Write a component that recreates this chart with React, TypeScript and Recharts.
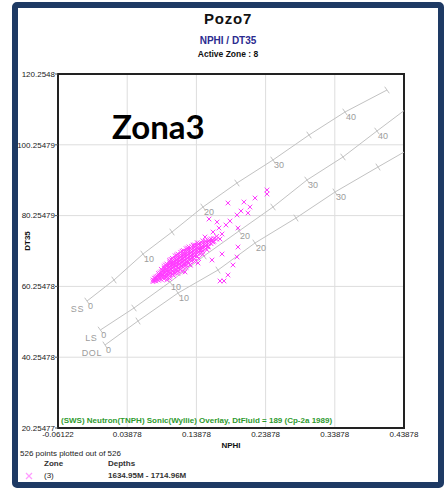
import React from 'react';
import { ScatterChart, Scatter, XAxis, YAxis, CartesianGrid, ReferenceArea } from 'recharts';

// axis ticks as printed on the plot
const xTicks = [-0.06122, 0.03878, 0.13878, 0.23878, 0.33878, 0.43878];
const yTicks = [20.25477, 40.25478, 60.25478, 80.25479, 100.25479, 120.2548];

// Wyllie overlay lines (porosity ticks every 5 p.u.)
const ssPorosity = [0, 5, 10, 15, 20, 25, 30, 35, 40, 45];
const ssNphi = [-0.0193, 0.0197, 0.0616, 0.1035, 0.1483, 0.1974, 0.2494, 0.3015, 0.3535, 0.4142];
const ssDt = [56.12, 62.06, 69.4, 75.62, 82.68, 89.46, 95.96, 103.02, 109.52, 115.73];

const lsPorosity = [0, 5, 10, 15, 20, 25, 30, 35, 40, null];
const lsNphi = [0.0, 0.0486, 0.1006, 0.1497, 0.2003, 0.2495, 0.2986, 0.3506, 0.3997, 0.43878];
const lsDt = [47.94, 54.15, 61.49, 68.84, 75.9, 82.68, 90.31, 96.81, 104.15, 109.9];

const dolPorosity = [0, 5, 10, 15, 20, 25, 30, 35, null];
const dolNphi = [0.0067, 0.0544, 0.1122, 0.17, 0.2234, 0.2827, 0.3391, 0.4012, 0.43878];
const dolDt = [43.7, 50.48, 58.38, 64.88, 72.51, 79.57, 86.92, 93.98, 98.2];

// Zone (3) samples: [NPHI, DT35]
const zone3Points: [number, number][] = [
  [0.076, 61.6], [0.076, 62.1], [0.078, 61.9], [0.078, 62.6],
  [0.08, 61.8], [0.08, 62.5], [0.08, 62.9], [0.082, 62.2], [0.082, 63.1],
  [0.084, 62.0], [0.084, 62.7], [0.084, 63.3], [0.084, 63.9],
  [0.086, 62.5], [0.086, 63.4], [0.086, 64.1],
  [0.088, 62.2], [0.088, 63.0], [0.088, 63.7], [0.088, 64.4], [0.088, 65.1],
  [0.09, 62.9], [0.09, 63.6], [0.09, 64.6],
  [0.092, 62.4], [0.092, 63.3], [0.092, 64.0], [0.092, 64.8], [0.092, 65.4], [0.092, 65.9],
  [0.094, 63.1], [0.094, 64.2], [0.094, 65.1], [0.094, 66.3],
  [0.096, 62.1], [0.096, 62.8], [0.096, 63.7], [0.096, 64.5], [0.096, 65.2], [0.096, 66.0], [0.096, 66.6],
  [0.098, 63.5], [0.098, 64.3], [0.098, 65.6], [0.098, 66.3],
  [0.1, 62.5], [0.1, 63.1], [0.1, 64.1], [0.1, 64.9], [0.1, 65.7], [0.1, 66.5], [0.1, 67.1], [0.1, 67.6],
  [0.102, 64.0], [0.102, 65.2], [0.102, 66.1], [0.102, 66.8], [0.102, 67.9],
  [0.104, 63.6], [0.104, 64.5], [0.104, 65.4], [0.104, 66.2], [0.104, 67.0], [0.104, 67.6], [0.104, 68.2],
  [0.106, 63.3], [0.106, 64.3], [0.106, 65.7], [0.106, 66.4], [0.106, 67.3],
  [0.108, 64.1], [0.108, 65.0], [0.108, 65.9], [0.108, 66.7], [0.108, 67.5], [0.108, 68.2], [0.108, 68.9],
  [0.11, 64.9], [0.11, 66.1], [0.11, 67.0], [0.11, 67.8], [0.11, 69.1],
  [0.112, 63.9], [0.112, 64.6], [0.112, 65.5], [0.112, 66.4], [0.112, 67.2], [0.112, 68.0], [0.112, 68.7], [0.112, 69.4],
  [0.114, 65.4], [0.114, 66.6], [0.114, 67.5], [0.114, 68.3],
  [0.116, 65.1], [0.116, 66.0], [0.116, 66.9], [0.116, 67.7], [0.116, 68.5], [0.116, 69.2], [0.116, 69.9],
  [0.118, 64.5], [0.118, 66.0], [0.118, 67.1], [0.118, 68.0], [0.118, 68.9], [0.118, 70.2],
  [0.12, 65.7], [0.12, 66.6], [0.12, 67.4], [0.12, 68.2], [0.12, 69.0], [0.12, 69.7], [0.12, 70.4],
  [0.122, 66.5], [0.122, 67.6], [0.122, 68.5], [0.122, 69.3],
  [0.124, 65.6], [0.124, 66.3], [0.124, 67.2], [0.124, 68.0], [0.124, 68.8], [0.124, 69.5], [0.124, 70.2], [0.124, 70.9],
  [0.126, 67.1], [0.126, 68.3], [0.126, 69.1], [0.126, 69.9], [0.126, 71.1],
  [0.128, 66.9], [0.128, 67.8], [0.128, 68.6], [0.128, 69.4], [0.128, 70.1], [0.128, 70.8], [0.128, 71.4],
  [0.13, 66.3], [0.13, 67.8], [0.13, 68.9], [0.13, 69.7], [0.13, 70.4],
  [0.132, 67.5], [0.132, 68.4], [0.132, 69.2], [0.132, 70.0], [0.132, 70.7], [0.132, 71.5],
  [0.134, 68.4], [0.134, 69.4], [0.134, 70.3], [0.134, 71.9],
  [0.136, 67.3], [0.136, 68.1], [0.136, 69.0], [0.136, 69.8], [0.136, 70.6], [0.136, 71.3], [0.136, 72.0],
  [0.138, 69.1], [0.138, 70.1], [0.138, 70.9],
  [0.14, 68.8], [0.14, 69.6], [0.14, 70.4], [0.14, 71.2], [0.14, 71.9], [0.14, 72.6],
  [0.142, 68.1], [0.142, 69.9], [0.142, 70.7], [0.142, 71.5], [0.142, 72.3],
  [0.144, 69.5], [0.144, 70.3], [0.144, 71.0], [0.144, 71.8], [0.144, 72.5],
  [0.146, 70.6], [0.146, 71.4],
  [0.148, 69.3], [0.148, 70.2], [0.148, 71.0], [0.148, 71.7], [0.148, 72.4], [0.148, 73.1],
  [0.15, 71.3], [0.15, 72.1],
  [0.152, 70.9], [0.152, 71.7], [0.152, 72.4], [0.152, 73.0],
  [0.154, 70.6], [0.154, 72.0], [0.154, 72.7],
  [0.156, 71.6], [0.156, 72.4], [0.156, 73.1],
  [0.158, 72.7], [0.158, 73.4],
  [0.16, 72.3], [0.16, 73.0], [0.16, 73.7],
  [0.162, 73.3], [0.164, 73.0], [0.164, 73.8], [0.168, 73.6], [0.168, 74.4],
  // scattered samples
  [0.2408, 87.49], [0.2408, 86.35], [0.2235, 85.22], [0.2075, 84.09], [0.1844, 83.81],
  [0.2162, 82.68], [0.2032, 81.55], [0.2133, 80.99], [0.1975, 80.42], [0.157, 79.29],
  [0.1873, 78.73], [0.1815, 77.6], [0.1989, 76.75], [0.1714, 76.75], [0.1628, 75.62],
  [0.1758, 75.06], [0.1729, 73.64], [0.1989, 71.38], [0.1758, 69.4], [0.1975, 68.56],
  [0.1916, 66.3], [0.1844, 63.47], [0.1729, 61.78], [0.1787, 61.78], [0.1411, 66.86],
  [0.1555, 71.38], [0.1628, 72.79], [0.1512, 74.21], [0.144, 70.53], [0.1295, 66.3],
  [0.1223, 64.33], [0.1613, 67.71], [0.1686, 78.44],
];

const ssLine = ssNphi.map((x, i) => ({ x, y: ssDt[i], p: ssPorosity[i] }));
const lsLine = lsNphi.map((x, i) => ({ x, y: lsDt[i], p: lsPorosity[i] }));
const dolLine = dolNphi.map((x, i) => ({ x, y: dolDt[i], p: dolPorosity[i] }));
const zone3 = zone3Points.map(([x, y]) => ({ x, y }));

const FONT = '"Liberation Sans", Arial, sans-serif';
const OVERLAY = '#c2c2c2';
const OVERLAY_TEXT = '#9c9c9c';
const MAGENTA = '#ff3cff';

function overlayShape(angleDeg: number, name: string) {
  const a = (angleDeg * Math.PI) / 180;
  const nx = Math.sin(a);
  const ny = Math.cos(a);
  return (props: any) => {
    const { cx, cy, payload } = props;
    if (payload.p == null) return <g />;
    return (
      <g>
        <line x1={cx - 4 * nx} y1={cy - 4 * ny} x2={cx + 4 * nx} y2={cy + 4 * ny} stroke={OVERLAY} strokeWidth={1} />
        {payload.p % 10 === 0 && (
          <text x={cx + 1} y={cy + 8} fontSize={9} fill={OVERLAY_TEXT} fontFamily={FONT}>
            {payload.p}
          </text>
        )}
        {payload.p === 0 && (
          <text x={cx - 3} y={cy + 11} fontSize={9} fill={OVERLAY_TEXT} textAnchor="end" fontFamily={FONT} letterSpacing={0.6}>
            {name}
          </text>
        )}
      </g>
    );
  };
}

const crossShape = (props: any) => {
  const { cx, cy } = props;
  const s = 2.3;
  return (
    <g stroke={MAGENTA} strokeWidth={1}>
      <line x1={cx - s} y1={cy - s} x2={cx + s} y2={cy + s} />
      <line x1={cx - s} y1={cy + s} x2={cx + s} y2={cy - s} />
    </g>
  );
};

const abs = (style: React.CSSProperties): React.CSSProperties => ({ position: 'absolute', whiteSpace: 'nowrap', ...style });

export default function App() {
  return (
    <div style={{ position: 'absolute', left: 0, top: 0, width: 448, height: 489, background: '#fff', fontFamily: FONT, overflow: 'hidden' }}>
      <div style={abs({ left: 12, top: 2, width: 432, height: 486, border: '6px solid #1e3a64', borderRadius: 5, boxSizing: 'border-box' })} />

      <div style={abs({ left: 0, top: 0 })}>
        <ScatterChart width={448} height={489} margin={{ top: 74, right: 44, bottom: 41, left: 8 }}>
          <CartesianGrid stroke="#dddddd" strokeWidth={1} />
          <XAxis
            type="number"
            dataKey="x"
            domain={[xTicks[0], xTicks[xTicks.length - 1]]}
            ticks={xTicks}
            interval={0}
            allowDataOverflow
            height={20}
            axisLine={false}
            tickLine={false}
            tickSize={3}
            tickMargin={0}
            tick={{ fontSize: 8, fill: '#222', fontFamily: FONT }}
          />
          <YAxis
            type="number"
            dataKey="y"
            domain={[yTicks[0], yTicks[yTicks.length - 1]]}
            ticks={yTicks}
            interval={0}
            allowDataOverflow
            width={50}
            axisLine={false}
            tickLine={{ stroke: '#555' }}
            tickSize={3}
            tickMargin={0}
            tick={{ fontSize: 8, fill: '#222', fontFamily: FONT }}
          />
          <Scatter data={ssLine} line={{ stroke: OVERLAY, strokeWidth: 1 }} shape={overlayShape(35, 'SS')} isAnimationActive={false} />
          <Scatter data={lsLine} line={{ stroke: OVERLAY, strokeWidth: 1 }} shape={overlayShape(36, 'LS')} isAnimationActive={false} />
          <Scatter data={dolLine} line={{ stroke: OVERLAY, strokeWidth: 1 }} shape={overlayShape(33, 'DOL')} isAnimationActive={false} />
          <Scatter data={zone3} shape={crossShape} isAnimationActive={false} />
          <ReferenceArea
            x1={xTicks[0]}
            x2={xTicks[xTicks.length - 1]}
            y1={yTicks[0]}
            y2={yTicks[yTicks.length - 1]}
            fill="none"
            stroke="#222"
            strokeWidth={2}
          />
        </ScatterChart>
      </div>

      <div style={abs({ left: 128, width: 200, top: 10, textAlign: 'center', fontSize: 15, fontWeight: 'bold', lineHeight: '18px', letterSpacing: 0.8, color: '#111' })}>Pozo7</div>
      <div style={abs({ left: 128, width: 200, top: 35, textAlign: 'center', fontSize: 10, fontWeight: 'bold', lineHeight: '12px', color: '#2b2b8f' })}>NPHI / DT35</div>
      <div style={abs({ left: 128, width: 200, top: 48, textAlign: 'center', fontSize: 8.5, fontWeight: 'bold', lineHeight: '12px', color: '#111' })}>Active Zone : 8</div>

      <div style={abs({ left: 112, top: 108, fontFamily: 'Lato, "Liberation Sans", sans-serif', fontSize: 33, fontWeight: 'bold', lineHeight: '36px', color: '#000' })}>Zona3</div>

      <div style={abs({ left: 61, top: 415, fontSize: 8, fontWeight: 'bold', lineHeight: '12px', color: '#2e9a2e' })}>
        (SWS) Neutron(TNPH) Sonic(Wyllie) Overlay, DtFluid = 189 (Cp-2a 1989)
      </div>

      <div style={abs({ left: 131, width: 200, top: 441, textAlign: 'center', fontSize: 8, fontWeight: 'bold', lineHeight: '10px', color: '#111' })}>NPHI</div>
      <div style={abs({ left: 8, top: 236, width: 40, textAlign: 'center', fontSize: 8, fontWeight: 'bold', lineHeight: '10px', color: '#111', transform: 'rotate(-90deg)' })}>DT35</div>

      <div style={abs({ left: 20, top: 449, fontSize: 8, lineHeight: '10px', color: '#222' })}>526 points plotted out of 526</div>
      <div style={abs({ left: 44, top: 459, fontSize: 8, fontWeight: 'bold', lineHeight: '10px', color: '#333' })}>Zone</div>
      <div style={abs({ left: 108, top: 459, fontSize: 8, fontWeight: 'bold', lineHeight: '10px', color: '#333' })}>Depths</div>
      <svg style={abs({ left: 25, top: 472 })} width={8} height={8}>
        <line x1={1} y1={1} x2={7} y2={7} stroke="#ff9cff" strokeWidth={1.2} />
        <line x1={1} y1={7} x2={7} y2={1} stroke="#ff9cff" strokeWidth={1.2} />
      </svg>
      <div style={abs({ left: 44, top: 471, fontSize: 8, lineHeight: '10px', color: '#222' })}>(3)</div>
      <div style={abs({ left: 108, top: 471, fontSize: 8, fontWeight: 'bold', lineHeight: '10px', color: '#333' })}>1634.95M - 1714.96M</div>
    </div>
  );
}
